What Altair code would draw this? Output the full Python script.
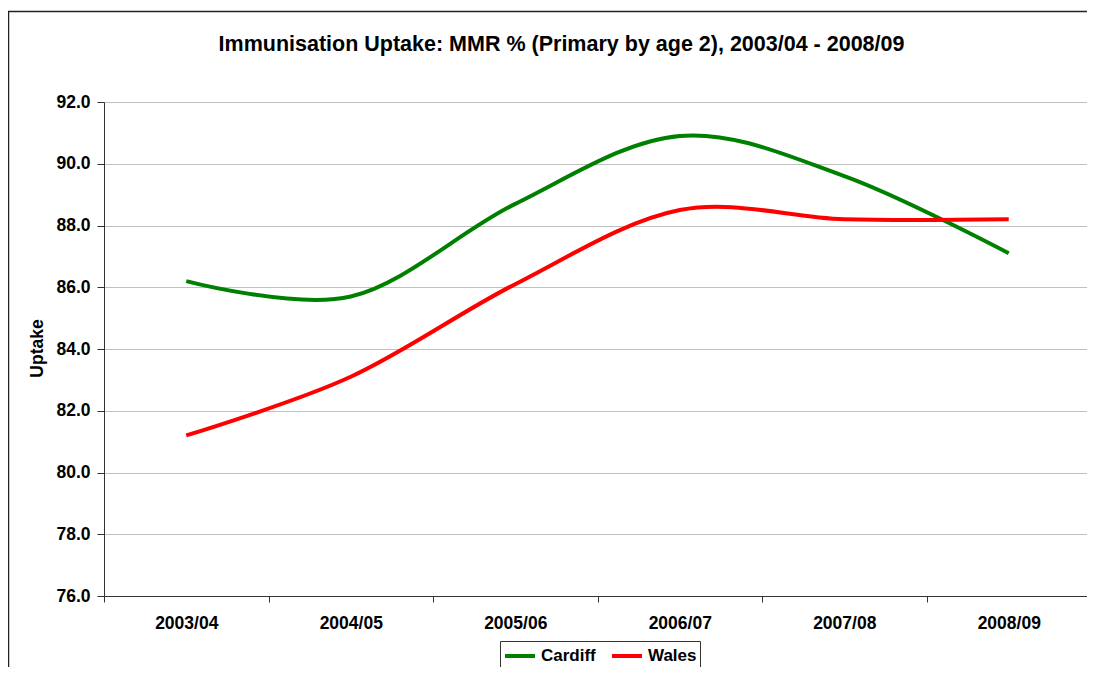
import altair as alt
import pandas as pd

years = ["2003/04", "2004/05", "2005/06", "2006/07", "2007/08", "2008/09"]
cardiff = [86.2, 85.7, 88.7, 90.9, 89.6, 87.1]
wales = [81.2, 83.1, 86.1, 88.5, 88.2, 88.2]
series_names = ["Cardiff", "Wales"]
series_colors = ["#008000", "#FF0000"]
y_ticks = [76, 78, 80, 82, 84, 86, 88, 90, 92]

rows = []
for name, vals in zip(series_names, [cardiff, wales]):
    for yr, v in zip(years, vals):
        rows.append({"Year": yr, "Uptake": v, "Series": name})
df = pd.DataFrame(rows)

FONT = "Liberation Sans"

border = alt.Chart(alt.Data(values=[{}])).mark_rect(
    fill="white", fillOpacity=0, stroke="#222222", strokeWidth=1.5
).encode(
    x=alt.value(-95.5), x2=alt.value(1200),
    y=alt.value(-90.5), y2=alt.value(800)
)

lines = alt.Chart(df).mark_line(interpolate="cardinal", strokeWidth=4).encode(
    x=alt.X("Year:N", sort=years, bandPosition=0.5,
            scale=alt.Scale(type="band", paddingInner=0, paddingOuter=0),
            axis=alt.Axis(title=None, tickBand="extent", labelAngle=0, tickSize=6,
                          labelPadding=12, labelFontSize=17.5, labelFontWeight="bold",
                          labelColor="black", domainColor="#333333", tickColor="#333333",
                          grid=False)),
    y=alt.Y("Uptake:Q", scale=alt.Scale(domain=[76, 92], nice=False, zero=False),
            axis=alt.Axis(title="Uptake", values=y_ticks, format=".1f", tickSize=7,
                          labelPadding=7, labelFontSize=17.5, labelFontWeight="bold",
                          labelColor="black", domainColor="#333333", tickColor="#333333",
                          gridColor="#c0c0c0", titleFontSize=17.5, titleFontWeight="bold",
                          titleColor="black", titleX=-67, titleY=246, titleAngle=-90,
                          titleAlign="center", titleBaseline="middle")),
    color=alt.Color("Series:N", sort=series_names,
                    scale=alt.Scale(domain=series_names, range=series_colors),
                    legend=alt.Legend(title=None, orient="none", legendX=396, legendY=539,
                                      direction="horizontal",
                                      symbolType="M-1.5,0L1.5,0",
                                      symbolSize=400, symbolStrokeWidth=4,
                                      symbolOffset=5,
                                      labelFontSize=17, labelFontWeight="bold",
                                      labelColor="black", strokeColor="#333333",
                                      padding=3, columnPadding=8, labelOffset=9))
)

chart = alt.layer(border, lines).properties(
    width=987, height=494,
    title=alt.TitleParams(
        "Immunisation Uptake: MMR % (Primary by age 2), 2003/04 - 2008/09",
        fontSize=21.5, fontWeight="bold", font=FONT, color="black",
        anchor="middle", frame="group", dx=-36, baseline="alphabetic",
        offset=0, dy=62),
    autosize=alt.AutoSizeParams(type="none"),
    padding={"left": 96, "top": 94, "right": -4, "bottom": 71},
).configure(font=FONT).configure_view(stroke=None).configure_axis(
    labelFont=FONT, titleFont=FONT
).configure_legend(labelFont=FONT)

chart.save("out.html", embed_options={"renderer": "svg", "actions": False})
